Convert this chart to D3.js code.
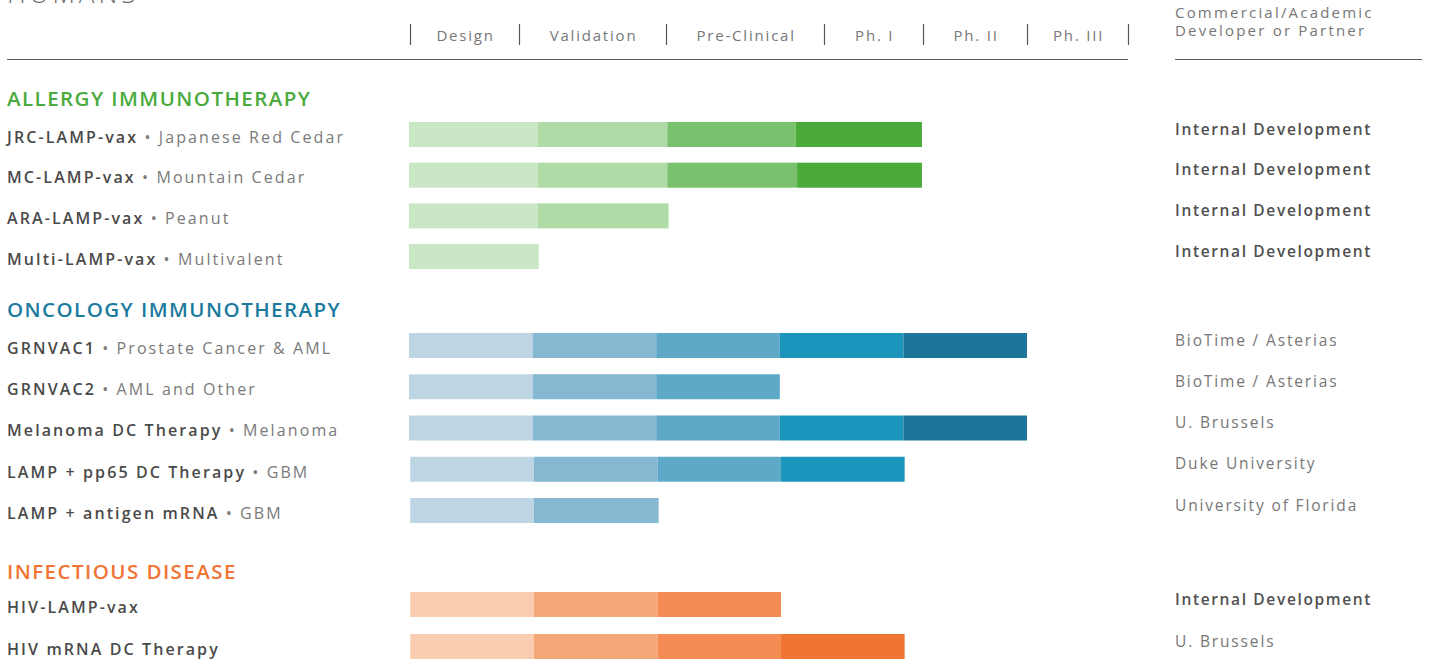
<!DOCTYPE html>
<html>
<head>
<meta charset="utf-8">
<script src="https://cdn.jsdelivr.net/npm/d3@7"></script>
<style>
  html, body { margin: 0; padding: 0; background: #fff; }
  svg { display: block; }
  text { font-family: "Open Sans", "Noto Sans", sans-serif; }
</style>
</head>
<body>
<svg id="chart" width="1429" height="661"></svg>
<script>
// ---------- DATA ----------
const pageTitle = "HUMANS";
const stages = ["Design", "Validation", "Pre-Clinical", "Ph. I", "Ph. II", "Ph. III"];
// header divider positions, in stage units
const stageEdges = [0.01, 0.89, 2.08, 3.36, 4.16, 5.0, 5.82];
const partnerHeader = ["Commercial/Academic", "Developer or Partner"];

const categories = ["ALLERGY IMMUNOTHERAPY", "ONCOLOGY IMMUNOTHERAPY", "INFECTIOUS DISEASE"];

const programs = [
  "JRC-LAMP-vax", "MC-LAMP-vax", "ARA-LAMP-vax", "Multi-LAMP-vax",
  "GRNVAC1", "GRNVAC2", "Melanoma DC Therapy", "LAMP + pp65 DC Therapy", "LAMP + antigen mRNA",
  "HIV-LAMP-vax", "HIV mRNA DC Therapy"
];
const indications = [
  "Japanese Red Cedar", "Mountain Cedar", "Peanut", "Multivalent",
  "Prostate Cancer & AML", "AML and Other", "Melanoma", "GBM", "GBM",
  "", ""
];
const partners = [
  "Internal Development", "Internal Development", "Internal Development", "Internal Development",
  "BioTime / Asterias", "BioTime / Asterias", "U. Brussels", "Duke University", "University of Florida",
  "Internal Development", "U. Brussels"
];
const programCategory = [0, 0, 0, 0, 1, 1, 1, 1, 1, 2, 2];

// progress segment boundaries per program (stage units)
const segmentEnds = [
  [0, 1.04, 2.09, 3.13, 4.15],
  [0, 1.04, 2.09, 3.14, 4.15],
  [0, 1.04, 2.10],
  [0, 1.05],
  [0, 1.0, 2.0, 3.0, 4.0, 5.0],
  [0, 1.0, 2.0, 3.0],
  [0, 1.0, 2.0, 3.0, 4.0, 5.0],
  [0.01, 1.01, 2.01, 3.01, 4.01],
  [0.01, 1.01, 2.02],
  [0.01, 1.01, 2.01, 3.01],
  [0.01, 1.01, 2.01, 3.01, 4.01]
];

// ---------- STYLE / LAYOUT ----------
const categoryColors = ["#4aaa3d", "#1b7a9e", "#f07434"];
const shades = [
  ["#c9e6c5", "#afdba7", "#79c16d", "#4aaa3a"],
  ["#bed6e4", "#87b8d1", "#5ea8c8", "#1b95bb", "#1b769a"],
  ["#facdb0", "#f4a878", "#f48c54", "#f07534"]
];
const headerY = [99, 310, 572];
const firstOffset = [35.5, 35.5, 32.5];
const pitch = [40.7, 41.25, 42];
const barH = 25;

const svg = d3.select("#chart");
const x = d3.scaleLinear().domain([0, 5]).range([409, 1027]);

// row centres
const rowIndexInGroup = [];
const counters = [0, 0, 0];
programCategory.forEach(c => { rowIndexInGroup.push(counters[c]++); });
const rowY = programs.map((p, i) => {
  const c = programCategory[i];
  return headerY[c] + firstOffset[c] + rowIndexInGroup[i] * pitch[c];
});

// ---------- TITLE ----------
svg.append("text")
  .attr("x", 7).attr("y", 3)
  .attr("font-size", 26).attr("font-weight", 300)
  .attr("letter-spacing", 4)
  .attr("fill", "#6a6a6a")
  .text(pageTitle);

// ---------- HEADER ----------
svg.append("line").attr("x1", 7).attr("x2", 1128).attr("y1", 59.5).attr("y2", 59.5)
  .attr("stroke", "#5a5a5a").attr("stroke-width", 1.2);
svg.append("line").attr("x1", 1175).attr("x2", 1422).attr("y1", 59.5).attr("y2", 59.5)
  .attr("stroke", "#5a5a5a").attr("stroke-width", 1.2);

svg.selectAll("line.tick").data(stageEdges).enter().append("line")
  .attr("class", "tick")
  .attr("x1", d => Math.round(x(d)) + 0.5).attr("x2", d => Math.round(x(d)) + 0.5)
  .attr("y1", 24).attr("y2", 45)
  .attr("stroke", "#555").attr("stroke-width", 1.2);

svg.selectAll("text.stage").data(stages).enter().append("text")
  .attr("class", "stage")
  .attr("x", (d, i) => (x(stageEdges[i]) + x(stageEdges[i + 1])) / 2 + 1)
  .attr("y", 36).attr("dy", "0.36em")
  .attr("text-anchor", "middle")
  .attr("font-size", 15).attr("letter-spacing", 1.8)
  .attr("fill", "#777")
  .text(d => d);

svg.selectAll("text.ph").data(partnerHeader).enter().append("text")
  .attr("class", "ph")
  .attr("x", 1175).attr("y", (d, i) => 13 + i * 18).attr("dy", "0.36em")
  .attr("font-size", 15).attr("letter-spacing", 2.2)
  .attr("fill", "#777")
  .text(d => d);

// ---------- CATEGORY HEADERS ----------
svg.selectAll("text.cat").data(categories).enter().append("text")
  .attr("class", "cat")
  .attr("x", 7).attr("y", (d, i) => headerY[i]).attr("dy", "0.36em")
  .attr("font-size", 20.5).attr("font-weight", 600).attr("letter-spacing", 1.45)
  .attr("fill", (d, i) => categoryColors[i])
  .text(d => d);

// ---------- ROW LABELS ----------
const labels = svg.selectAll("text.lbl").data(programs).enter().append("text")
  .attr("class", "lbl")
  .attr("x", 7).attr("y", (d, i) => rowY[i] + 2.5).attr("dy", "0.36em")
  .attr("font-size", 16).attr("letter-spacing", 2.1);
labels.append("tspan").attr("font-weight", 600).attr("fill", "#4a4a4a").text(d => d);
labels.append("tspan").attr("fill", "#7a7a7a")
  .text((d, i) => indications[i] ? " \u2022 " + indications[i] : "");

// ---------- BARS ----------
const rows = svg.selectAll("g.row").data(programs).enter().append("g").attr("class", "row");
rows.each(function (d, i) {
  const ends = segmentEnds[i];
  const c = programCategory[i];
  const segs = d3.range(ends.length - 1).map(k => ({ a: ends[k], b: ends[k + 1], k }));
  d3.select(this).selectAll("rect").data(segs).enter().append("rect")
    .attr("x", s => x(s.a))
    .attr("width", s => x(s.b) - x(s.a))
    .attr("y", rowY[i] - barH / 2)
    .attr("height", barH)
    .attr("fill", s => shades[c][s.k]);
});

// ---------- PARTNERS ----------
svg.selectAll("text.partner").data(partners).enter().append("text")
  .attr("class", "partner")
  .attr("x", 1175).attr("y", (d, i) => rowY[i] - 5.5).attr("dy", "0.36em")
  .attr("font-size", 15.5)
  .attr("font-weight", d => d === "Internal Development" ? 600 : 400)
  .attr("letter-spacing", d => d === "Internal Development" ? 1.65 : 1.85)
  .attr("fill", d => d === "Internal Development" ? "#505050" : "#777")
  .text(d => d);
</script>
</body>
</html>
